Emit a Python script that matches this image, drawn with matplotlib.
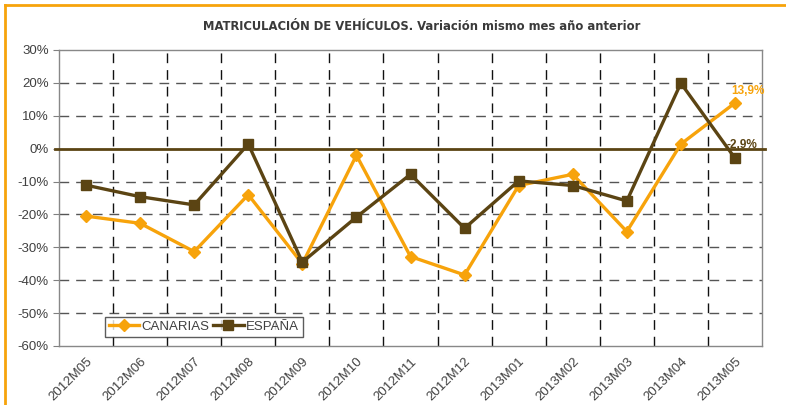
import matplotlib
matplotlib.use("Agg")
import matplotlib.pyplot as plt
from matplotlib.ticker import FuncFormatter, FixedLocator
from matplotlib.lines import Line2D

categories = ["2012M05", "2012M06", "2012M07", "2012M08", "2012M09", "2012M10",
              "2012M11", "2012M12", "2013M01", "2013M02", "2013M03", "2013M04", "2013M05"]
canarias = [-20.5, -22.7, -31.3, -14.0, -35.0, -2.0, -32.8, -38.4, -11.2, -7.8, -25.2, 1.4, 13.9]
espana = [-11.1, -14.6, -17.1, 1.4, -34.5, -20.8, -7.8, -24.2, -9.8, -11.2, -15.9, 19.9, -2.9]
yticks = [30, 20, 10, 0, -10, -20, -30, -40, -50, -60]

ORANGE = "#F7A30B"
BROWN = "#5B4413"
TXT = "#404040"

plt.rcParams['font.family'] = ['Liberation Sans', 'DejaVu Sans']

fig = plt.figure(figsize=(7.86, 4.05), dpi=100)
ax = fig.add_axes([59/786, 1-346/405, (762-59)/786, (346-50)/405])

x = list(range(len(categories)))
ax.plot(x, canarias, color=ORANGE, lw=2.4, marker="D", ms=6.5, mec=ORANGE, mfc=ORANGE,
        label="CANARIAS", zorder=4)
ax.plot(x, espana, color=BROWN, lw=2.4, marker="s", ms=7.5, mec=BROWN, mfc=BROWN,
        label="ESPAÑA", zorder=5)

ax.set_xlim(-0.5, len(categories) - 0.5)
ax.set_ylim(-60, 30)
ax.yaxis.set_major_locator(FixedLocator(yticks))
ax.yaxis.set_major_formatter(FuncFormatter(lambda v, p: f"{int(v)}%"))
ax.set_xticks(x)
ax.set_xticklabels(categories, rotation=45, ha="right", rotation_mode="anchor",
                   fontsize=9.5, color=TXT)
ax.tick_params(axis="x", length=0, pad=7)
ax.tick_params(axis="y", labelsize=9.5, labelcolor=TXT, length=4, color="#808080", direction="out")

# gridlines
for v in yticks:
    if v not in (30, -60, 0):
        ax.axhline(v, color="#555555", lw=1.0, ls=(0, (7, 5)), zorder=1)
for b in range(len(categories) - 1):
    ax.axvline(b + 0.5, color="#111111", lw=1.0, ls=(0, (7, 5)), zorder=1)
ax.axhline(0, color=BROWN, lw=2.0, zorder=3, clip_on=False, xmin=-0.006, xmax=1.004)

for s in ax.spines.values():
    s.set_color("#888888")
    s.set_linewidth(1.0)

ax.text(x[-1] + 0.24, canarias[-1] + 1.8, "13,9%", color=ORANGE, fontsize=8.5,
        fontweight="bold", ha="center", va="bottom", zorder=6)
ax.text(x[-1] + 0.13, espana[-1] + 2.3, "-2,9%", color=BROWN, fontsize=8.5,
        fontweight="bold", ha="center", va="bottom", zorder=6)

leg = ax.legend(loc="lower left", bbox_to_anchor=((105-59)/703, (346-337)/296),
                ncol=2, fontsize=9.5, frameon=True, fancybox=False,
                handlelength=2.3, columnspacing=0.3, handletextpad=0.15,
                borderpad=0.3, borderaxespad=0)
leg.get_frame().set_edgecolor("#333333")
leg.get_frame().set_linewidth(1.0)
for t in leg.get_texts():
    t.set_color(TXT)

fig.text(422/786, 1-27/405, "MATRICULACIÓN DE VEHÍCULOS. Variación mismo mes año anterior",
         ha="center", va="center", fontsize=9.3, fontweight="bold", color="#3A3A3A",
         family=["DejaVu Sans"], fontstretch="condensed")

# orange frame (left and top)
fig.add_artist(Line2D([5/786, 5/786], [0, 1-5/405], color=ORANGE, lw=2, transform=fig.transFigure))
fig.add_artist(Line2D([5/786, 1], [1-5/405, 1-5/405], color=ORANGE, lw=2, transform=fig.transFigure))

fig.savefig("out.png", dpi=100)
